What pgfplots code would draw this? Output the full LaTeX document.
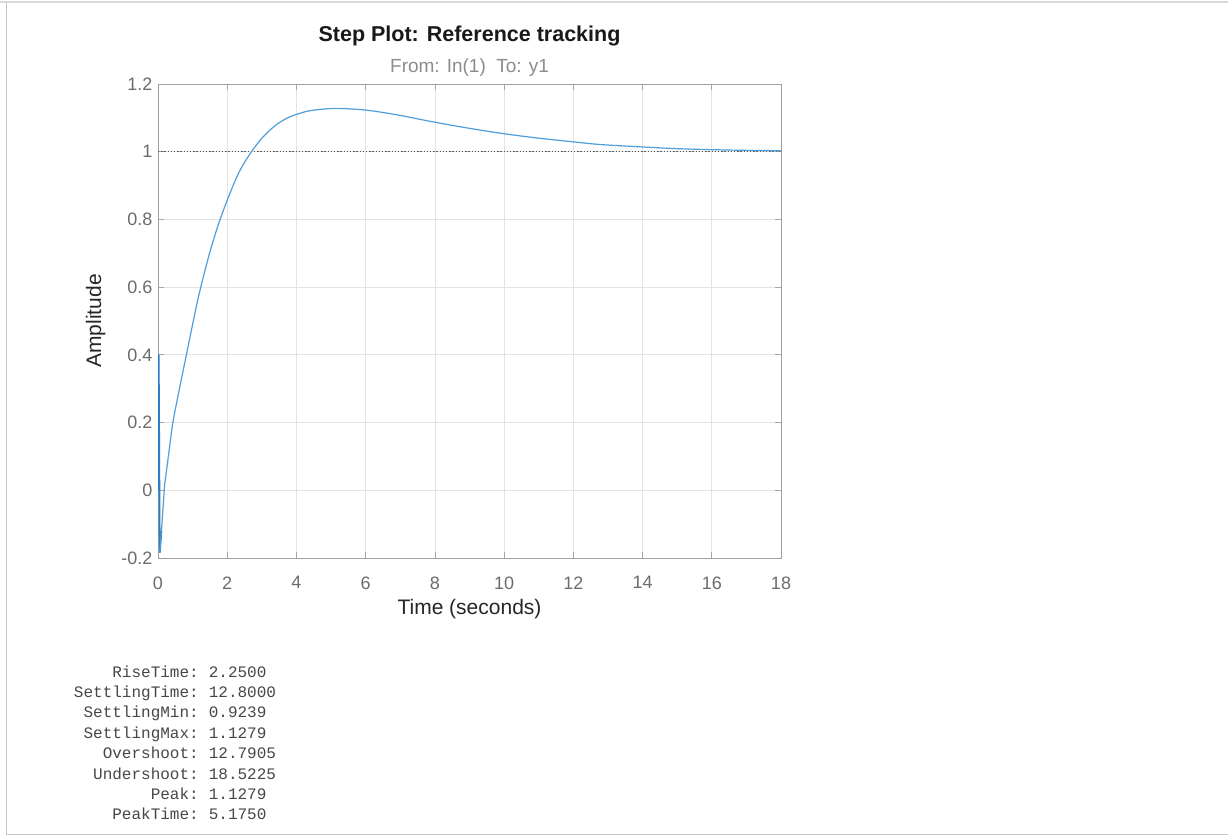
\documentclass[border=0pt]{standalone}
\usepackage{pgfplots}
\pgfplotsset{compat=1.18}
\usepackage{fontspec}
\setmainfont{Liberation Sans}
\setmonofont{Liberation Mono}
\definecolor{mblue}{RGB}{80,158,218}
\definecolor{dblue}{RGB}{40,125,200}
\begin{document}
\begin{tikzpicture}
\useasboundingbox (0,0) rectangle (1228pt,837pt);
\fill[white] (0,0) rectangle (1228pt,837pt);
\draw[gray!30, line width=2pt] (0,835pt) -- (1228pt,835pt);
\draw[gray!45, line width=1pt] (6.5pt,835pt) -- (6.5pt,2pt) -- (1228pt,2pt);
\begin{axis}[
  at={(158pt,279pt)}, anchor=south west,
  width=623pt, height=474pt, scale only axis,
  xmin=0, xmax=18, ymin=-0.2, ymax=1.2,
  xtick={0,2,4,6,8,10,12,14,16,18},
  ytick={-0.2,0,0.2,0.4,0.6,0.8,1,1.2},
  grid=major,
  major grid style={color=gray!22, line width=0.7pt},
  axis line style={color=gray!75, line width=0.8pt},
  tick align=inside, major tick length=6pt,
  tick style={color=gray!70, line width=0.7pt},
  /pgf/number format/assume math mode=true,
  ticklabel style={font=\fontsize{18}{20}\selectfont, text=gray!85!black},
  xticklabel style={yshift=-15pt},
  yticklabel style={xshift=-2pt},
  xlabel={Time (seconds)},
  ylabel={Amplitude},
  xlabel style={font=\fontsize{21}{24}\selectfont, text=black!85, yshift=-3pt},
  ylabel style={font=\fontsize{21}{24}\selectfont, text=black!85, yshift=9pt},
  clip=true,
]
\addplot[black!65, line width=1.3pt, dash pattern=on 1.4pt off 1.8pt] coordinates {(0,1) (18,1)};
\addplot[dblue, line width=1.8pt] coordinates {
(0,0) (0.02,0.4) (0.05,-0.185) (0.1,-0.12)
};
\addplot[mblue, line width=1.2pt] coordinates {
(0.05,-0.185) (0.1,-0.12) (0.19,0.015) (0.3,0.1)
};
\addplot[mblue, line width=1.2pt, smooth] coordinates {
(0.3,0.1) (0.43,0.2) (0.6,0.29) (0.8,0.39) (1.0,0.49) (1.2,0.585)
(1.49,0.70) (1.76,0.79) (2.07,0.875) (2.36,0.943) (2.70,1.0)
(3.03,1.043) (3.42,1.080) (3.81,1.103) (4.29,1.119) (4.7,1.125)
(5.175,1.128) (6.0,1.123) (6.9,1.109) (8.0,1.087)
(9.0,1.069) (10.0,1.053) (11.0,1.040) (12.0,1.029) (12.8,1.021)
(14.0,1.014) (15,1.009) (16.0,1.006) (17,1.004) (18,1.003)
};
\end{axis}
\node[font=\bfseries\fontsize{21.5}{24}\selectfont, text=black!90] at (469.5pt,801pt) {Step Plot: Reference tracking};
\node[font=\fontsize{19}{22}\selectfont, text=gray!90] at (469.5pt,769pt) {From: In(1)\ \ To: y1};
\foreach \k/\v [count=\i] in {RiseTime/2.2500, SettlingTime/12.8000, SettlingMin/0.9239, SettlingMax/1.1279, Overshoot/12.7905, Undershoot/18.5225, Peak/1.1279, PeakTime/5.1750} {
  \pgfmathsetmacro{\yy}{837-677.2-20.37*(\i-1)}
  \node[anchor=base east, inner sep=0pt, font=\ttfamily\fontsize{16}{18}\selectfont, text=black!72] at (199pt,\yy pt) {\k:};
  \node[anchor=base west, inner sep=0pt, font=\ttfamily\fontsize{16}{18}\selectfont, text=black!72] at (208.6pt,\yy pt) {\v};
}
\end{tikzpicture}
\end{document}
